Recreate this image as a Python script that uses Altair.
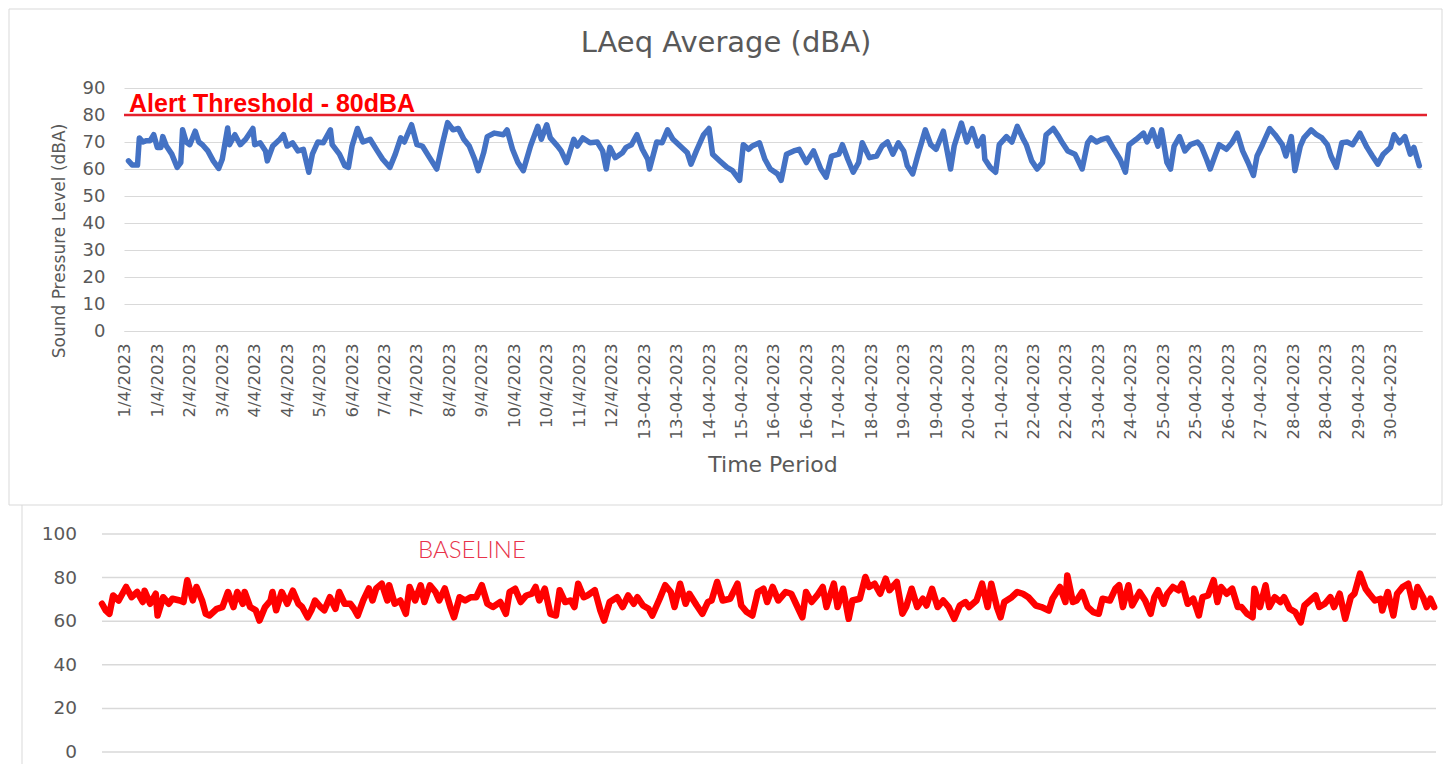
import json
import altair as alt
import pandas as pd

# ---------------- data ----------------
chart_title = ["LAeq Average (dBA)"]
y_title = ["Sound Pressure Level (dBA)"]
x_title = ["Time Period"]
alert_label = ["Alert Threshold - 80dBA"]
baseline_label = ["BASELINE"]
threshold = [80]

x_labels = [
    "1/4/2023", "1/4/2023", "2/4/2023", "3/4/2023", "4/4/2023", "4/4/2023",
    "5/4/2023", "6/4/2023", "7/4/2023", "7/4/2023", "8/4/2023", "9/4/2023",
    "10/4/2023", "10/4/2023", "11/4/2023", "12/4/2023", "13-04-2023", "13-04-2023",
    "14-04-2023", "15-04-2023", "16-04-2023", "16-04-2023", "17-04-2023", "18-04-2023",
    "19-04-2023", "19-04-2023", "20-04-2023", "21-04-2023", "22-04-2023", "22-04-2023",
    "23-04-2023", "24-04-2023", "25-04-2023", "25-04-2023", "26-04-2023", "27-04-2023",
    "28-04-2023", "28-04-2023", "29-04-2023", "30-04-2023",
]
top_ticks = [0, 10, 20, 30, 40, 50, 60, 70, 80, 90]
base_ticks = [0, 20, 40, 60, 80, 100]

# LAeq average, hour of month -> dBA
top_hour = [
    2, 4, 7, 8, 10, 12, 14, 16, 18, 20,
    21, 23, 26, 29, 31, 32, 34, 36, 39, 41,
    43, 46, 49, 52, 54, 57, 58, 61, 64, 67,
    71, 72, 75, 78, 79, 82, 86, 88, 90, 93,
    96, 99, 102, 104, 107, 110, 114, 115, 119, 122,
    124, 126, 129, 132, 136, 140, 143, 147, 150, 153,
    155, 159, 162, 165, 169, 173, 176, 179, 182, 185,
    188, 191, 194, 196, 199, 201, 205, 210, 212, 215,
    218, 221, 225, 229, 231, 234, 236, 240, 242, 245,
    249, 251, 254, 258, 262, 265, 267, 269, 272, 276,
    278, 281, 284, 287, 290, 291, 295, 298, 301, 304,
    308, 312, 314, 317, 321, 324, 326, 330, 334, 337,
    341, 343, 346, 348, 352, 355, 358, 362, 364, 367,
    371, 374, 378, 382, 386, 389, 392, 396, 398, 401,
    404, 407, 409, 413, 417, 420, 423, 426, 429, 432,
    434, 437, 440, 444, 447, 450, 454, 458, 460, 464,
    467, 470, 473, 476, 477, 480, 483, 485, 489, 492,
    495, 498, 500, 503, 506, 509, 511, 515, 518, 520,
    523, 527, 531, 534, 536, 539, 542, 545, 548, 552,
    555, 557, 561, 565, 567, 570, 573, 575, 578, 580,
    582, 585, 588, 591, 595, 597, 600, 602, 605, 607,
    611, 614, 617, 620, 623, 626, 628, 631, 635, 638,
    642, 644, 647, 649, 652, 654, 658, 661, 664, 667,
    669, 672, 675, 678, 681, 685, 689, 692, 695, 698,
    702, 704, 707, 710, 713, 715, 718,
]
top_level = [
    63, 61.5, 61.5, 71.5, 70, 70.5, 70.5, 72.7, 68, 68,
    72, 68.5, 65.5, 60.6, 62.4, 74.5, 70, 69, 74, 70,
    69, 66.7, 63, 60.2, 63.6, 75.2, 69, 72.7, 69, 71,
    75, 69, 69.7, 66.7, 63, 68.5, 71, 72.7, 68.5, 69.7,
    66.7, 67.3, 58.8, 65.5, 70, 69.7, 74.5, 69, 65.5, 61.2,
    60.6, 68.5, 75, 70, 71, 66.7, 63.6, 60.6, 65.5, 71.5,
    70, 76.4, 69, 68.5, 64.2, 60, 69, 77.2, 74.5, 75,
    71, 68.5, 63.6, 59.4, 66, 72, 73.3, 72.7, 74.5, 67.3,
    62.4, 59.4, 68.5, 75.8, 71, 76.4, 71.5, 68.5, 66.7, 62.4,
    71, 68.5, 71.5, 69.7, 70, 66.7, 60, 68, 64.2, 66,
    68, 69, 72.7, 67.3, 63.6, 60, 70, 69.7, 74.5, 71,
    68.5, 66, 61.8, 66.7, 72.7, 75, 65.5, 63, 60.6, 59.4,
    55.8, 69, 67.3, 68.5, 69.7, 63.6, 60, 58.2, 55.8, 65.5,
    66.7, 67.3, 62.4, 66.7, 60, 57, 64.8, 65.5, 69, 63.6,
    58.8, 62.4, 69.7, 64.2, 64.8, 68.5, 70, 65.5, 69.7, 66.7,
    61.2, 58.2, 65.5, 74.5, 69, 67.3, 74, 60, 68.5, 77,
    70, 75, 68.5, 72, 63.6, 60.6, 58.8, 69, 72, 70,
    75.8, 71.5, 69, 63, 60, 62.4, 72.7, 75, 72, 69.7,
    66.7, 65.5, 60, 69.7, 71.5, 70, 71, 71.5, 68, 63.6,
    58.8, 69, 71, 73.3, 70, 74.5, 68.5, 74.5, 62.4, 60,
    68.5, 72, 66.7, 69, 70, 68.5, 63.6, 60, 65.5, 69,
    67.3, 69.7, 73.3, 66.7, 62.4, 57.6, 64.8, 69, 75, 72.7,
    69, 64.8, 72, 59.4, 68.5, 71.5, 74.5, 72.7, 71.5, 69,
    64.8, 60.6, 69.7, 70, 69, 73.3, 68, 64.8, 61.8, 65.5,
    68, 72.7, 69.7, 72, 65.5, 68, 61.2,
]

# Baseline series, hour -> dBA
base_hour = [
    0, 2, 4, 6, 9, 11, 13, 16, 19, 22,
    23, 26, 29, 30, 33, 36, 38, 42, 44, 46,
    49, 51, 54, 56, 58, 62, 65, 68, 71, 73,
    76, 77, 80, 83, 85, 88, 91, 92, 94, 97,
    100, 103, 106, 108, 111, 113, 115, 118, 120, 123,
    126, 128, 131, 134, 136, 138, 141, 144, 146, 148,
    151, 154, 155, 158, 161, 164, 166, 169, 172, 174,
    177, 180, 182, 185, 188, 190, 193, 196, 199, 202,
    205, 208, 211, 215, 218, 220, 223, 226, 229, 232,
    234, 236, 239, 242, 245, 247, 250, 253, 255, 257,
    260, 262, 266, 269, 271, 274, 278, 281, 284, 287,
    289, 292, 295, 297, 301, 304, 307, 309, 312, 315,
    317, 321, 324, 327, 329, 332, 335, 339, 343, 345,
    348, 351, 354, 357, 359, 362, 365, 369, 372, 375,
    378, 380, 383, 386, 389, 391, 395, 397, 400, 403,
    405, 409, 412, 414, 417, 420, 423, 425, 429, 432,
    434, 437, 440, 443, 445, 448, 451, 454, 457, 460,
    463, 466, 468, 472, 475, 478, 480, 483, 485, 487,
    491, 494, 497, 500, 504, 507, 511, 513, 517, 520,
    521, 524, 526, 529, 532, 535, 538, 540, 544, 547,
    549, 551, 554, 556, 560, 563, 566, 568, 570, 573,
    575, 578, 581, 583, 586, 589, 592, 594, 597, 600,
    602, 604, 607, 610, 613, 615, 618, 621, 622, 625,
    628, 630, 633, 636, 638, 641, 644, 647, 649, 652,
    655, 657, 660, 663, 665, 668, 671, 674, 676, 679,
    682, 684, 687, 690, 691, 694, 697, 699, 702, 705,
    708, 710, 713, 715, 717, 719,
]
base_level = [
    68, 65, 63.4, 71.8, 69.5, 72.6, 75.7, 71, 73.4, 68.8,
    74, 68, 72.6, 62.6, 71, 68, 70.3, 69.5, 68.8, 78.8,
    69.5, 75.7, 69.5, 63.4, 62.6, 65.7, 66.5, 73.4, 66.5, 73.4,
    68, 73.4, 66.5, 65, 60.3, 66.5, 69.5, 73.4, 65, 73.4,
    68, 74, 68, 66.5, 61.8, 65, 69.5, 66.5, 65, 71,
    65.7, 73.4, 68, 68, 65.7, 62.6, 69.5, 75, 69.5, 75,
    77.2, 69.5, 76.5, 68, 69.5, 63.4, 75.7, 69.5, 76.5, 68.8,
    76.5, 73.4, 69.5, 75, 66.5, 61.8, 71, 69.5, 71, 71,
    76.5, 68, 66.5, 68.8, 63.4, 73.4, 74.9, 68.8, 71.8, 72.6,
    75.7, 69.5, 74.9, 63.4, 62.6, 74.2, 68.8, 69.5, 66.5, 77.2,
    71, 71.8, 74.2, 64.9, 60.3, 68.8, 71, 66.5, 71.8, 68,
    71, 67.2, 65.7, 62.6, 70.3, 76.5, 73.4, 66.5, 77.2, 68,
    72.6, 67.2, 63.4, 68.8, 69.5, 78, 69.5, 70.3, 77.2, 67.2,
    64.2, 62.6, 73.4, 74.9, 68.8, 75.7, 69.5, 73.4, 72.6, 67.2,
    61.8, 73.4, 68.8, 71.8, 75.7, 66.5, 77.2, 66.5, 74.9, 61.1,
    69.5, 70.3, 80.3, 75.7, 77.2, 72.6, 79.5, 74.2, 78, 63.4,
    66.5, 74.9, 66.5, 70.3, 67.2, 74.9, 66.5, 69.5, 66.5, 61.1,
    67.2, 68.8, 66.5, 69.5, 77.2, 66.5, 77.2, 66.5, 61.8, 68.8,
    71, 73.4, 72.6, 71, 67.2, 66.5, 64.9, 70.3, 75.7, 68.8,
    81, 68.8, 69.5, 73.4, 66.5, 64.2, 63.4, 70.3, 69.5, 74.9,
    76.5, 66.5, 76.5, 67.2, 73.4, 69.5, 63.4, 71, 74.2, 68,
    72.6, 75.7, 74.2, 77.2, 68, 70.3, 62.6, 71, 71.8, 78.8,
    68.8, 75.7, 72.6, 74.9, 66.5, 66.5, 63.4, 61.8, 74.9, 66.5,
    76.5, 66.5, 71, 68.8, 71, 65.7, 64.2, 59.5, 67.2, 69.5,
    71.8, 66.5, 68, 71, 66.5, 72.6, 61.1, 71, 72.6, 81.8,
    74.9, 72.6, 69.5, 70.3, 64.9, 73.4, 62.6, 72.6, 75.7, 77.2,
    66.5, 75.7, 71, 66.5, 70.3, 66.5,
]

# ---------------- layout / styling ----------------
W, H = 1298, 243           # top plot area
GRID = "#D9D9D9"
TXT = "#595959"
FONT = "DejaVu Sans"

top_df = pd.DataFrame({"hour": top_hour, "level": top_level})
base_df = pd.DataFrame({"hour": base_hour, "level": base_level})
thr_df = pd.DataFrame({"thr": threshold})
bt_df = pd.DataFrame({"tick": base_ticks})
one = pd.DataFrame({"k": [0]})

tick_hours = list(range(0, 720, 18))
labels_js = json.dumps(x_labels)

top_x = alt.Scale(domain=[-0.5, 719.5], range=[0, W], nice=False, zero=False)
top_y = alt.Scale(domain=[0, 90], range=[H, 0], nice=False, zero=False)
bot_x = alt.Scale(domain=[0, 720], range=[-22, 1312], nice=False, zero=False)
bot_y = alt.Scale(domain=[0, 100], range=[664, 446], nice=False, zero=False)

border = alt.Chart(one).mark_rect(fillOpacity=0, stroke=GRID, strokeWidth=1).encode(
    x=alt.value(-115), x2=alt.value(1318), y=alt.value(-79), y2=alt.value(417)
)
bottom_edge = alt.Chart(one).mark_rule(color=GRID, strokeWidth=1).encode(
    x=alt.value(-102), y=alt.value(417), y2=alt.value(676)
)

top_line = alt.Chart(top_df).mark_line(
    color="#4472C4", strokeWidth=5.5, strokeJoin="round", strokeCap="round"
).encode(
    x=alt.X("hour:Q", scale=top_x, axis=alt.Axis(
        values=tick_hours,
        labelExpr=f"{labels_js}[floor(datum.value / 18)]",
        labelAngle=270, labelFont=FONT, labelFontSize=16.5, labelColor=TXT,
        labelPadding=12, labelOverlap=False, labelBound=False, labelFlush=False,
        ticks=False, grid=False, domainColor=GRID, title=None,
    )),
    y=alt.Y("level:Q", scale=top_y, axis=alt.Axis(
        values=top_ticks, grid=True, gridColor=GRID, gridWidth=1,
        domain=False, ticks=False, labelFont=FONT, labelFontSize=18,
        labelColor=TXT, labelPadding=19, title=None,
    )),
)

thr_rule = alt.Chart(thr_df).mark_rule(color="#E3212D", strokeWidth=2.5).encode(
    y=alt.Y("thr:Q", scale=top_y, axis=None),
    x=alt.value(0), x2=alt.value(W + 5),
)

alert_txt = alt.Chart(pd.DataFrame({"t": alert_label})).mark_text(
    font="Liberation Sans", fontSize=25, fontWeight="bold", color="#FF0000",
    align="left", baseline="alphabetic"
).encode(text="t:N", x=alt.value(5), y=alt.value(24))

title_txt = alt.Chart(pd.DataFrame({"t": chart_title})).mark_text(
    font=FONT, fontSize=29, color=TXT, align="center", baseline="alphabetic"
).encode(text="t:N", x=alt.value(602), y=alt.value(-36))

ytitle_txt = alt.Chart(pd.DataFrame({"t": y_title})).mark_text(
    font=FONT, fontSize=17, color=TXT, align="center", baseline="middle", angle=270
).encode(text="t:N", x=alt.value(-64), y=alt.value(153))

xtitle_txt = alt.Chart(pd.DataFrame({"t": x_title})).mark_text(
    font=FONT, fontSize=22, color=TXT, align="center", baseline="middle"
).encode(text="t:N", x=alt.value(649), y=alt.value(377))

bot_grid = alt.Chart(bt_df).mark_rule(color=GRID, strokeWidth=1.5).encode(
    y=alt.Y("tick:Q", scale=bot_y, axis=None),
    x=alt.value(-22), x2=alt.value(1312),
)
bot_labels = alt.Chart(bt_df).mark_text(
    font=FONT, fontSize=18.5, color=TXT, align="right", baseline="middle"
).encode(
    y=alt.Y("tick:Q", scale=bot_y, axis=None),
    x=alt.value(-47), text="tick:Q",
)
bot_line = alt.Chart(base_df).mark_line(
    color="#FF0000", strokeWidth=6.5, strokeJoin="round", strokeCap="round"
).encode(
    x=alt.X("hour:Q", scale=bot_x, axis=None),
    y=alt.Y("level:Q", scale=bot_y, axis=None),
)
baseline_txt = alt.Chart(pd.DataFrame({"t": baseline_label})).mark_text(
    font="Lato", fontSize=24, fontWeight=300, color="#E8334A",
    align="left", baseline="alphabetic"
).encode(text="t:N", x=alt.value(294), y=alt.value(470))

chart = alt.layer(
    border, bottom_edge, top_line, thr_rule, alert_txt, title_txt, ytitle_txt,
    xtitle_txt, bot_grid, bot_labels, bot_line, baseline_txt,
).resolve_scale(
    x="independent", y="independent"
).properties(
    width=W, height=H, padding=0, background="white"
).configure_view(stroke=None)

chart.save("out.html", embed_options={"renderer": "svg", "actions": False})
